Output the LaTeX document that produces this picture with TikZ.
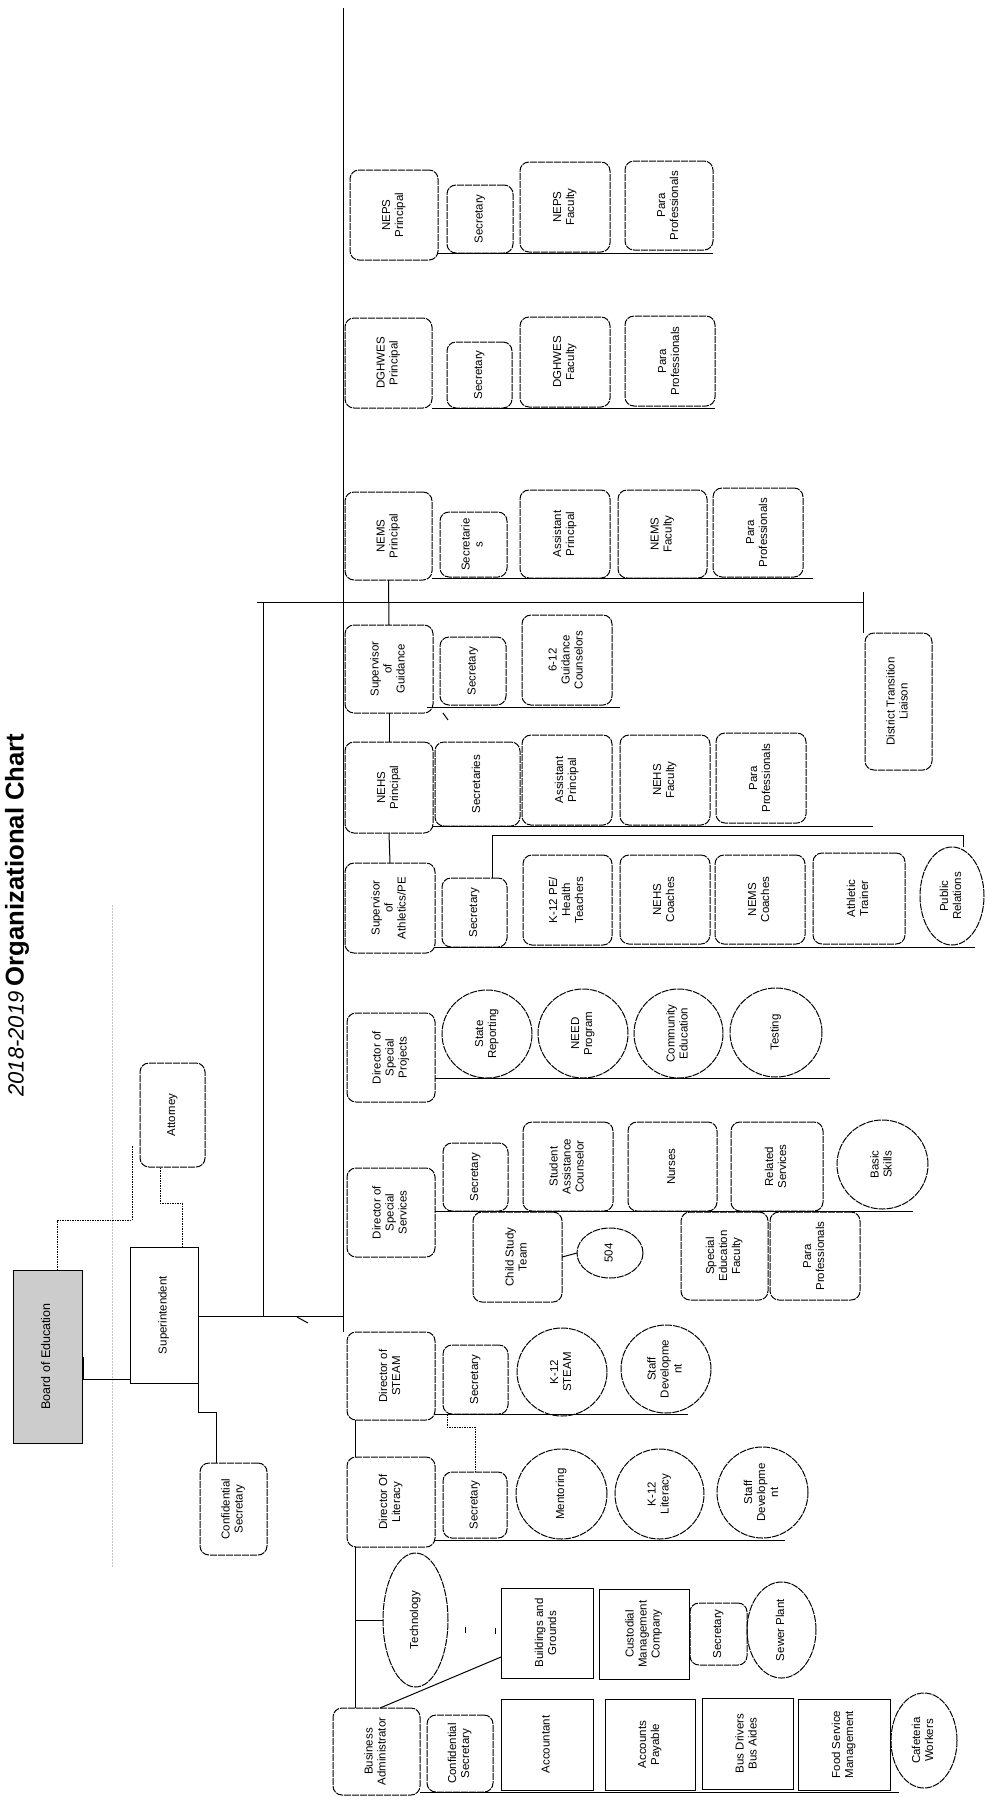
\documentclass[tikz,border=0pt]{standalone}
\usepackage{fontspec}
\setmainfont{Liberation Sans}
\usepackage{graphicx}
\usetikzlibrary{shapes.geometric,calc}
\newcommand\bx[7]{\node[#1,minimum width={(#5-#3)*1pt},minimum height={(#6-#4)*1pt}] (#2) at ({(#3+#5)/2},{(#4+#6)/2}) {\rotatebox{90}{\begin{tabular}{@{}c@{}}#7\end{tabular}}};}
\tikzset{
 bxbase/.style={inner sep=0pt,outer sep=0pt,font=\fontsize{11.5}{13}\selectfont,line width=1pt,draw=black},
 rbox/.style={bxbase,rectangle,rounded corners=9pt,dash pattern=on 7pt off 1pt},
 sbox/.style={bxbase,rectangle},
 ebox/.style={bxbase,ellipse,dash pattern=on 7pt off 1pt},
 conn/.style={line width=1pt,black},
 dconn/.style={line width=1pt,black,dash pattern=on 1.5pt off 1pt},
}
\begin{document}
\begin{tikzpicture}[x=1pt,y=-1pt]
\fill[white] (0,0) rectangle (985,1797);
\useasboundingbox (0,0) rectangle (985,1797);

% title
\node[inner sep=0pt] (title) at (17,915) {\rotatebox{90}{{\fontsize{22}{26}\selectfont\itshape 2018-2019}\enspace{\fontsize{25.7}{30}\selectfont\bfseries Organizational Chart}}};

% top level
\bx{sbox,fill=black!20}{board}{13}{1270}{82}{1443}{\fontsize{12.5}{14}\selectfont Board of Education}
\bx{sbox}{supt}{130}{1247}{198}{1383}{Superintendent}
\bx{rbox}{atty}{140}{1063}{205}{1167}{Attorney}
\bx{rbox}{csec}{200}{1463}{267}{1555}{Confidential\\Secretary}

% directors
\bx{rbox}{neps}{350}{170}{438}{260}{NEPS\\Principal}
\bx{rbox}{dgh}{345}{318}{432}{408}{DGHWES\\Principal}
\bx{rbox}{nems}{345}{492}{432}{580}{NEMS\\Principal}
\bx{rbox}{guid}{345}{625}{433}{713}{Supervisor\\of\\Guidance}
\bx{rbox}{nehs}{345}{742}{433}{833}{NEHS\\Principal}
\bx{rbox}{ath}{345}{863}{435}{953}{Supervisor\\of\\Athletics/PE}
\bx{rbox}{sproj}{347}{1013}{435}{1102}{Director of\\Special\\Projects}
\bx{rbox}{sserv}{347}{1168}{435}{1257}{Director of\\Special\\Services}
\bx{rbox}{steam}{347}{1332}{435}{1420}{Director of\\STEAM}
\bx{rbox}{lit}{347}{1457}{435}{1547}{Director Of\\Literacy}
\bx{rbox}{ba}{333}{1708}{420}{1795}{Business\\Administrator}

% NEPS row
\bx{rbox}{nepssec}{447}{185}{513}{253}{Secretary}
\bx{rbox}{nepsfac}{520}{162}{610}{252}{NEPS\\Faculty}
\bx{rbox}{nepspara}{625}{161}{713}{250}{Para\\Professionals}
% DGHWES row
\bx{rbox}{dghsec}{447}{342}{512}{408}{Secretary}
\bx{rbox}{dghfac}{520}{317}{610}{407}{DGHWES\\Faculty}
\bx{rbox}{dghpara}{625}{316}{715}{406}{Para\\Professionals}
% NEMS row
\bx{rbox}{nemssec}{440}{512}{507}{577}{Secretarie\\s}
\bx{rbox}{nemsap}{520}{490}{610}{578}{Assistant\\Principal}
\bx{rbox}{nemsfac}{618}{490}{707}{578}{NEMS\\Faculty}
\bx{rbox}{nemspara}{713}{488}{803}{577}{Para\\Professionals}
% Guidance row
\bx{rbox}{guidsec}{440}{637}{506}{705}{Secretary}
\bx{rbox}{guidcoun}{522}{615}{612}{705}{6-12\\Guidance\\Counselors}
% NEHS row
\bx{rbox}{nehssec}{435}{742}{520}{826}{Secretaries}
\bx{rbox}{nehsap}{522}{735}{612}{825}{Assistant\\Principal}
\bx{rbox}{nehsfac}{620}{735}{710}{825}{NEHS\\Faculty}
\bx{rbox}{nehspara}{716}{733}{806}{823}{Para\\Professionals}
% District Transition Liaison
\bx{rbox}{dtl}{865}{633}{932}{770}{District Transition\\Liaison}
% Athletics row
\bx{rbox}{athsec}{442}{878}{507}{947}{Secretary}
\bx{rbox}{athk}{523}{855}{612}{945}{K-12 PE/\\Health\\Teachers}
\bx{rbox}{athnehs}{620}{855}{710}{944}{NEHS\\Coaches}
\bx{rbox}{athnems}{715}{855}{805}{944}{NEMS\\Coaches}
\bx{rbox}{athtr}{813}{853}{905}{944}{Athletic\\Trainer}
\bx{ebox}{athpr}{920}{847}{984}{945}{Public\\Relations}
% Special projects row
\bx{ebox}{srep}{442}{990}{532}{1078}{State\\Reporting}
\bx{ebox}{need}{538}{989}{628}{1078}{NEED\\Program}
\bx{ebox}{comm}{634}{989}{723}{1078}{Community\\Education}
\bx{ebox}{testg}{730}{988}{822}{1077}{Testing}
% Special services row
\bx{rbox}{sssec}{443}{1143}{508}{1211}{Secretary}
\bx{rbox}{sac}{523}{1122}{613}{1211}{Student\\Assistance\\Counselor}
\bx{rbox}{nurse}{628}{1122}{717}{1211}{Nurses}
\bx{rbox}{relsv}{731}{1122}{823}{1211}{Related\\Services}
\bx{ebox}{basic}{837}{1120}{928}{1209}{Basic\\Skills}
\bx{rbox}{cst}{473}{1212}{562}{1302}{Child Study\\Team}
\bx{ebox}{cfive}{577}{1228}{643}{1278}{504}
\bx{rbox}{sped}{681}{1212}{768}{1300}{Special\\Education\\Faculty}
\bx{rbox}{sspara}{770}{1212}{860}{1300}{Para\\Professionals}
% STEAM row
\bx{rbox}{stsec}{443}{1345}{508}{1414}{Secretary}
\bx{ebox}{stk}{517}{1328}{607}{1416}{K-12\\STEAM}
\bx{ebox}{stdev}{621}{1325}{711}{1413}{Staff\\Developme\\nt}
% Literacy row
\bx{rbox}{litsec}{443}{1472}{507}{1538}{Secretary}
\bx{ebox}{ment}{516}{1449}{607}{1539}{Mentoring}
\bx{ebox}{litk}{615}{1449}{704}{1539}{K-12\\Literacy}
\bx{ebox}{litdev}{717}{1447}{808}{1538}{Staff\\Developme\\nt}
% Business administrator
\bx{ebox}{tech}{383}{1553}{448}{1687}{Technology}
\bx{sbox}{bg}{501}{1588}{593}{1678}{Buildings and\\Grounds}
\bx{sbox}{cust}{599}{1589}{689}{1679}{Custodial\\Management\\Company}
\bx{rbox}{bsec}{690}{1603}{747}{1665}{Secretary}
\bx{ebox}{sewer}{747}{1582}{816}{1678}{Sewer Plant}
\bx{rbox}{basec}{427}{1715}{493}{1792}{Confidential\\Secretary}
\bx{sbox}{acct}{501}{1699}{593}{1790}{Accountant}
\bx{sbox}{ap}{605}{1699}{695}{1790}{Accounts\\Payable}
\bx{sbox}{bus}{702}{1698}{793}{1789}{Bus Drivers\\Bus Aides}
\bx{sbox}{food}{798}{1699}{890}{1790}{Food Service\\Management}
\bx{ebox}{caf}{891}{1693}{957}{1788}{Cafeteria\\Workers}

% gray guide line
\coordinate (g1) at (112,905); \coordinate (g2) at (112,1567);
\draw[gray!45,line width=0.7pt,dash pattern=on 2pt off 1pt] (g1) -- (g2);

% left connectors
\coordinate (bj) at (83,1357); \coordinate (bj2) at (83,1379);
\draw[conn] (bj) -- (bj2) -- (supt.west |- bj2);
\coordinate (ba1) at (57,1220); \coordinate (ba2) at (132,1145);
\draw[dconn] (ba1 |- board.north) -- (ba1) -- (ba1 -| ba2) -- (ba2);
\coordinate (sa1) at (182,1203); \coordinate (sa2) at (160,1203);
\draw[dconn] (sa1 |- supt.north) -- (sa1) -- (sa2) -- (sa2 |- atty.south);
\coordinate (sc1) at (198,1412); \coordinate (sc2) at (216,1412);
\draw[conn] (supt.south east) -- (sc1) -- (sc2) -- (sc2 |- csec.north);

% spine
\coordinate (spTop) at (343,8);
\draw[conn] (spTop) -- (spTop |- steam.north);
\coordinate (sj) at (263,1316);
\draw[conn] (supt.east |- sj) -- (spTop |- sj);
\coordinate (tj) at (257,602); \coordinate (dtlj) at (863,602);
\draw[conn] (sj) -- (sj |- tj);
\draw[conn] (tj) -- (dtlj);
\draw[conn] ([yshift=10pt]dtlj) -- (dtlj |- dtl.north);
\coordinate (tk1) at (297,1317); \coordinate (tk2) at (308,1323);
\draw[conn] (tk1) -- (tk2);
\coordinate (lk) at (355,1420);
\draw[conn] (lk |- steam.south) -- (lk |- lit.north);
\draw[conn] (lk |- lit.south) -- (lk |- ba.north);

% principal chain
\draw[conn] (nems.south) -- (guid.north);
\draw[conn] (guid.south) -- (nehs.north);
\draw[conn] (nehs.south) -- (ath.north);

% row base lines
\coordinate (nepsE) at (713,253); \draw[conn] (neps.east |- nepsE) -- (nepsE);
\coordinate (dghE) at (715,408); \draw[conn] (dgh.east |- dghE) -- (dghE);
\coordinate (nemsE) at (813,578); \draw[conn] (nems.east |- nemsE) -- (nemsE);
\coordinate (guidE) at (620,707); \draw[conn] ([xshift=-6pt]guid.east |- guidE) -- (guidE);
\coordinate (gt1) at (443,713); \coordinate (gt2) at (448,720); \draw[conn] (gt1) -- (gt2);
\coordinate (nehsE) at (873,826); \draw[conn] (nehs.east |- nehsE) -- (nehsE);
\coordinate (athE) at (975,947); \draw[conn] (ath.east |- athE) -- (athE);
\coordinate (ab1) at (492,835); \coordinate (ab2) at (963,835);
\draw[conn] (ab1 |- athsec.north) -- (ab1) -- (ab2) -- (ab2 |- athpr.north);
\coordinate (spE) at (830,1078); \draw[conn] (sproj.east |- spE) -- (spE);
\coordinate (ssE) at (913,1211); \draw[conn] (sserv.east |- ssE) -- (ssE);
\draw[conn] (cst.east) -- (cfive.west);
\coordinate (stE) at (688,1414); \draw[conn] (steam.east |- stE) -- (stE);
\coordinate (d1) at (447,1427); \coordinate (d2) at (475,1427);
\draw[dconn] (d1 |- stsec.south) -- (d1) -- (d2) -- (d2 |- litsec.north);
\coordinate (litE) at (785,1540); \draw[conn] (lit.east |- litE) -- (litE);
\draw[conn] (lk |- tech.west) -- (tech.west);
\coordinate (bad) at (380,1708);
\draw[conn] (bad) -- ([yshift=-24pt]bg.west);
\coordinate (baE) at (899,1792); \draw[conn] (ba.east |- baE) -- (baE);
\coordinate (m1) at (465,1627); \coordinate (m2) at (465,1633);
\draw[conn] (m1) -- (m2);
\coordinate (m3) at (495,1628); \coordinate (m4) at (495,1634);
\draw[conn] (m3) -- (m4);
\end{tikzpicture}
\end{document}
